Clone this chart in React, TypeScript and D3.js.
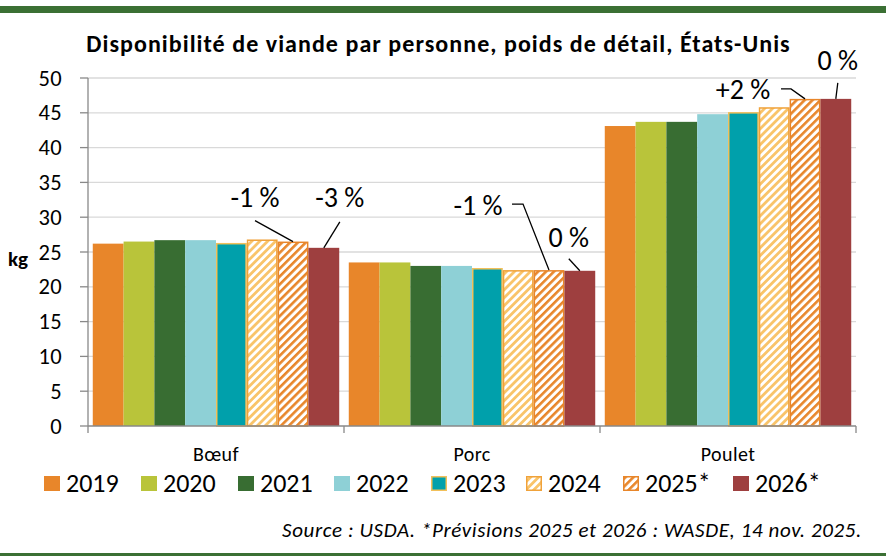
import React from "react";
import * as d3 from "d3";

const categories = ["Bœuf", "Porc", "Poulet"];
const years = ["2019", "2020", "2021", "2022", "2023", "2024", "2025*", "2026*"];
const v2019 = [26.2, 23.5, 43.1];
const v2020 = [26.5, 23.5, 43.7];
const v2021 = [26.7, 23.0, 43.7];
const v2022 = [26.7, 23.0, 44.8];
const v2023 = [26.3, 22.7, 45.1];
const v2024 = [26.8, 22.4, 45.8];
const v2025 = [26.5, 22.4, 47.0];
const v2026 = [25.6, 22.3, 47.0];
const seriesValues = [v2019, v2020, v2021, v2022, v2023, v2024, v2025, v2026];
const yTicks = [0, 5, 10, 15, 20, 25, 30, 35, 40, 45, 50];
const annotations = [
  { cat: "Bœuf", year: "2025*", text: "-1 %" },
  { cat: "Bœuf", year: "2026*", text: "-3 %" },
  { cat: "Porc", year: "2025*", text: "-1 %" },
  { cat: "Porc", year: "2026*", text: "0 %" },
  { cat: "Poulet", year: "2025*", text: "+2 %" },
  { cat: "Poulet", year: "2026*", text: "0 %" },
];

const W = 886, H = 556;
const M = { left: 88, right: 856, top: 78, bottom: 426 };
const FONT = "Carlito, Lato, 'Open Sans', sans-serif";

// style per series
const fills = ["#E8862A", "#B9C43A", "#386D32", "#8ED0D6", "#00A0AB", "url(#hatch24)", "url(#hatch25)", "#9E3F3F"];
const strokes = [null, null, null, null, "#F2C05A", "#F0A23A", "#E8862A", null];

// leader layout relative to bar top-center: text pos and leader points
const annLayout = [
  { tx: -38, ty: -35, pts: [[-38, -21], [0, 0]] },
  { tx: 16, ty: -41, pts: [[16, -26], [0, 0]] },
  { tx: -71, ty: -55, pts: [[-37, -66], [-26, -66], [0, 0]] },
  { tx: -11, ty: -24, pts: [[-11, -12], [0, 0]] },
  { tx: -62, ty: 0, pts: [[-24, -10], [-14, -10], [0, 0]] },
  { tx: 2, ty: -29, pts: [[2, -16], [0, 0]] },
];

export default function App() {
  const x0 = d3.scaleBand<string>().domain(categories).range([M.left, M.right]).paddingInner(0).paddingOuter(0);
  const x1 = d3.scaleBand<string>().domain(years).range([0, x0.bandwidth()]).paddingInner(0).paddingOuter(0.155);
  const y = d3.scaleLinear().domain([0, 50]).range([M.bottom, M.top]);

  const legendX = [44, 141, 238, 334, 431, 526, 623, 733];

  return (
    <svg width={W} height={H} style={{ display: "block", position: "absolute", left: 0, top: 0 }} fontFamily={FONT}>
      <defs>
        <pattern id="hatch24" patternUnits="userSpaceOnUse" width={5.6} height={5.6} patternTransform="rotate(45)">
          <rect width={5.6} height={5.6} fill="#ffffff" />
          <rect width={2.8} height={5.6} fill="#F9C46A" />
        </pattern>
        <pattern id="hatch25" patternUnits="userSpaceOnUse" width={5.6} height={5.6} patternTransform="rotate(45)">
          <rect width={5.6} height={5.6} fill="#ffffff" />
          <rect width={2.6} height={5.6} fill="#E8862A" />
        </pattern>
      </defs>
      <rect width={W} height={H} fill="#ffffff" />
      <rect x={0} y={6} width={W} height={7} fill="#3B7034" />
      <rect x={0} y={553} width={W} height={3} fill="#3B7034" />

      <text x={438.5} y={52} textAnchor="middle" fontWeight="bold" fontSize={24} letterSpacing={1.05} fill="#000">
        Disponibilité de viande par personne, poids de détail, États-Unis
      </text>

      {/* gridlines */}
      {yTicks.filter((t) => t > 0).map((t) => (
        <line key={"g" + t} x1={M.left} x2={M.right} y1={y(t)} y2={y(t)} stroke="#D9D9D9" strokeWidth={1.3} />
      ))}

      {/* bars */}
      {years.map((yr, si) =>
        categories.map((c, ci) => {
          const v = seriesValues[si][ci];
          const bx = (x0(c) as number) + (x1(yr) as number);
          const bw = x1.bandwidth();
          const st = strokes[si];
          return (
            <rect
              key={yr + c}
              x={st ? bx + 0.75 : bx}
              y={y(v) + (st ? 0.75 : 0)}
              width={st ? bw - 1.5 : bw}
              height={y(0) - y(v) - (st ? 0.75 : 0)}
              fill={fills[si]}
              stroke={st || "none"}
              strokeWidth={st ? 1.5 : 0}
            />
          );
        })
      )}

      {/* axes */}
      <line x1={M.left} x2={M.left} y1={M.top} y2={M.bottom} stroke="#898989" strokeWidth={1.3} />
      {yTicks.map((t) => (
        <g key={"t" + t}>
          <line x1={M.left - 8} x2={M.left} y1={y(t)} y2={y(t)} stroke="#898989" strokeWidth={1.3} />
          <text x={62} y={y(t) + 7.5} textAnchor="end" fontSize={22.5} letterSpacing={0.3} fill="#000">{t}</text>
        </g>
      ))}
      <line x1={M.left} x2={M.right} y1={M.bottom} y2={M.bottom} stroke="#898989" strokeWidth={1.3} />
      {[...categories.map((c) => x0(c) as number), M.right].map((px, i) => (
        <line key={"ct" + i} x1={px} x2={px} y1={M.bottom} y2={M.bottom + 7} stroke="#898989" strokeWidth={1.3} />
      ))}
      {categories.map((c) => (
        <text key={"cl" + c} x={(x0(c) as number) + x0.bandwidth() / 2} y={461} textAnchor="middle" fontSize={20} letterSpacing={0.4} fill="#000">
          {c}
        </text>
      ))}
      <text x={8} y={266} fontSize={21} fontWeight="bold" fill="#000">kg</text>

      {/* annotations */}
      {annotations.map((a, i) => {
        const si = years.indexOf(a.year);
        const ci = categories.indexOf(a.cat);
        const cx = (x0(a.cat) as number) + (x1(a.year) as number) + x1.bandwidth() / 2;
        const cy = y(seriesValues[si][ci]);
        const L = annLayout[i];
        const path = d3.line()(L.pts.map(([dx, dy]) => [cx + dx, cy + dy] as [number, number])) as string;
        return (
          <g key={"a" + i}>
            <path d={path} fill="none" stroke="#000" strokeWidth={1.3} />
            <text x={cx + L.tx} y={cy + L.ty} textAnchor="middle" fontSize={28} fill="#000">{a.text}</text>
          </g>
        );
      })}

      {/* legend */}
      {years.map((yr, si) => {
        const st = strokes[si];
        return (
          <g key={"lg" + yr}>
            <rect
              x={legendX[si] + (st ? 0.75 : 0)}
              y={476 + (st ? 0.75 : 0)}
              width={st ? 14.5 : 16}
              height={st ? 13.5 : 15}
              fill={fills[si]}
              stroke={st || "none"}
              strokeWidth={st ? 1.5 : 0}
            />
            <text x={legendX[si] + 22} y={492} fontSize={26} fill="#000">{yr}</text>
          </g>
        );
      })}

      <text x={862} y={537} textAnchor="end" fontSize={21} letterSpacing={0.6} fontStyle="italic" fill="#000">
        Source : USDA. *Prévisions 2025 et 2026 : WASDE, 14 nov. 2025.
      </text>
    </svg>
  );
}
